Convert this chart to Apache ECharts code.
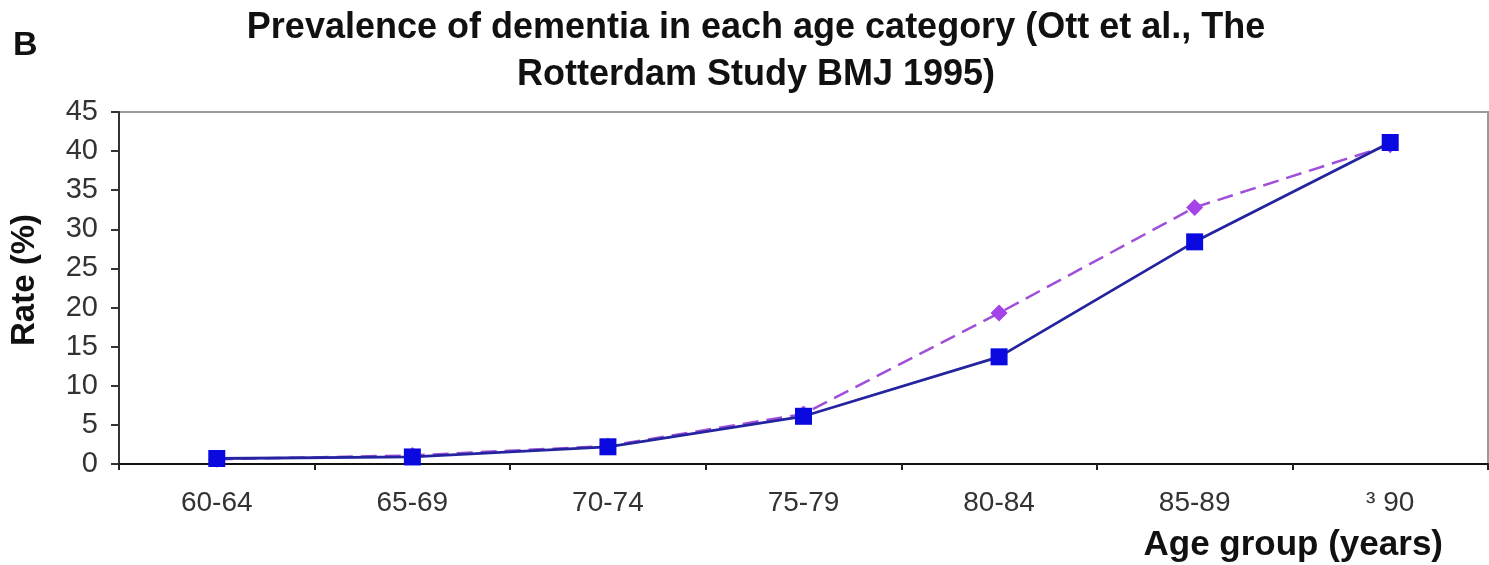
<!DOCTYPE html>
<html><head><meta charset="utf-8">
<script src="https://cdn.jsdelivr.net/npm/echarts@6/dist/echarts.min.js"></script>
<style>html,body{margin:0;padding:0;background:#fff}#c{width:1489px;height:565px}</style>
</head><body><div id="c"></div>
<script>
const categories = ['60-64','65-69','70-74','75-79','80-84','85-89','\u00b3 90'];
const solidSeries = [0.7, 0.9, 2.2, 6.1, 13.7, 28.4, 41.1];
const dashedSeries = [0.6, 1.1, 2.3, 6.4, 19.3, 32.8, 40.8];
const yTicks = {min: 0, max: 45, interval: 5};
const titleText = 'Prevalence of dementia in each age category (Ott et al., The\nRotterdam Study BMJ 1995)';

const chart = echarts.init(document.getElementById('c'), null, {renderer: 'canvas'});
const font = '"Liberation Sans", Arial, sans-serif';
chart.setOption({
  animation: false,
  backgroundColor: '#fff',
  title: [{
    text: titleText, left: 751, top: 0, textAlign: 'center',
    textStyle: {fontFamily: font, fontWeight: 'bold', fontSize: 36, color: '#111', lineHeight: 47}
  },{
    text: 'B', left: 8, top: 24,
    textStyle: {fontFamily: font, fontWeight: 'bold', fontSize: 34, color: '#111'}
  }],
  grid: {left: 119, right: 1, top: 112, bottom: 101, show: true, borderColor: '#9a9a9a', borderWidth: 2},
  xAxis: {
    type: 'category', data: categories, boundaryGap: true,
    name: 'Age group (years)', nameLocation: 'end', nameGap: 0,
    nameTextStyle: {fontFamily: font, fontWeight: 'bold', fontSize: 35, color: '#111', align: 'right', verticalAlign: 'top', padding: [64, 45, 0, 0]},
    axisLine: {lineStyle: {color: '#111', width: 2}},
    axisTick: {show: true, alignWithLabel: false, length: 6, lineStyle: {color: '#222', width: 2}},
    axisLabel: {fontFamily: font, fontSize: 28, color: '#333', margin: 25},
    splitLine: {show: false}
  },
  yAxis: {
    type: 'value', min: yTicks.min, max: yTicks.max, interval: yTicks.interval,
    name: 'Rate (%)', nameLocation: 'middle', nameGap: 78, nameRotate: 90,
    nameTextStyle: {fontFamily: font, fontWeight: 'bold', fontSize: 33, color: '#111', padding: [0, 0, 0, 16]},
    axisLine: {show: true, lineStyle: {color: '#333', width: 2}},
    axisTick: {show: true, length: 8, lineStyle: {color: '#333', width: 2}},
    axisLabel: {fontFamily: font, fontSize: 29, color: '#333', margin: 21},
    splitLine: {show: false}
  },
  series: [{
    type: 'line', data: dashedSeries, symbol: 'diamond', symbolSize: 17,
    lineStyle: {color: '#a050d8', width: 2.5, type: [16, 8]},
    itemStyle: {color: '#a444e8'}, z: 2
  },{
    type: 'line', data: solidSeries, symbol: 'rect', symbolSize: 17,
    lineStyle: {color: '#2424a0', width: 2.8},
    itemStyle: {color: '#0a0ae0'}, z: 3
  }]
});
</script></body></html>
